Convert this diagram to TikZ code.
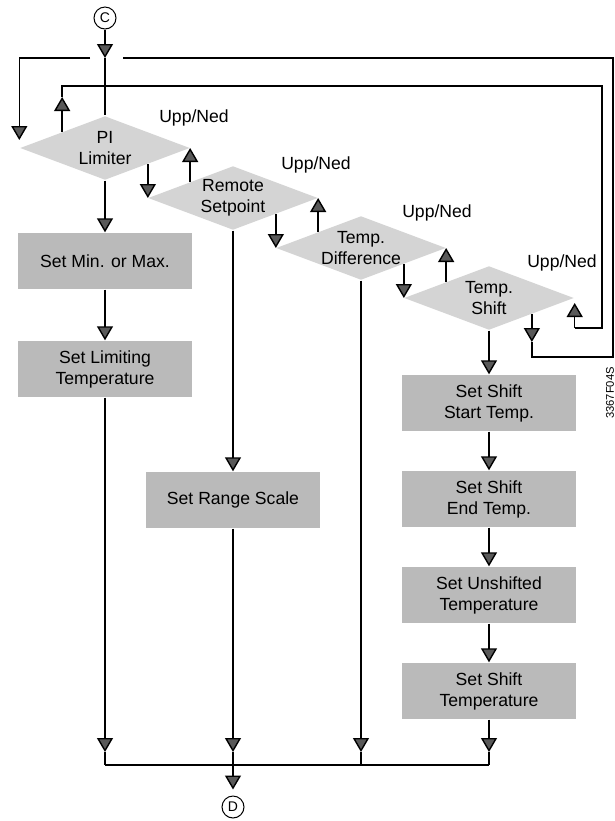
\documentclass[tikz,border=0pt]{standalone}
\usepackage{fontspec}
\setmainfont{Liberation Sans}
\usetikzlibrary{arrows.meta,positioning,shapes.geometric}

\begin{document}
\begin{tikzpicture}[x=0.5pt,y=-0.5pt,>={Triangle[width=8pt,length=7pt,fill=black!65]},line width=0.7pt,
  on grid,font=\fontsize{8.8}{10.5}\selectfont,
  dia/.style={diamond,fill=black!17,aspect=2.64,inner xsep=-3pt,inner ysep=0pt,minimum width=85pt,minimum height=32pt,align=center},
  box/.style={rectangle,fill=black!27,minimum width=87pt,minimum height=28pt,align=center},
  conn/.style={circle,draw,line width=0.5pt,minimum size=11pt,inner sep=0pt,font=\fontsize{7}{8}\selectfont}]
  \useasboundingbox (0,0) rectangle (615,821);

  \node [conn] (C) at (105,18) {C};
  \node [dia] (pi) at (105,148) {PI\\Limiter};
  \node [dia] (rem) [below right=25pt and 64pt of pi] {Remote\\Setpoint};
  \node [dia] (dif) [below right=25pt and 64pt of rem] {Temp.\\Difference};
  \node [dia] (shf) [below right=25pt and 64pt of dif] {Temp.\\Shift};

  \node at (194,118) {Upp/Ned};
  \node at (316,165) {Upp/Ned};
  \node at (437,213) {Upp/Ned};
  \node at (562,263) {Upp/Ned};

  \node [box] (minmax) [below=56.5pt of pi] {Set Min. or Max.};
  \node [box] (limit) [below=54pt of minmax] {Set Limiting\\Temperature};
  \node [box] (range) [below=151pt of rem] {Set Range Scale};
  \node [box] (start) [below=52.5pt of shf] {Set Shift\\Start Temp.};
  \node [box] (endt) [below=48pt of start] {Set Shift\\End Temp.};
  \node [box] (unsh) [below=48pt of endt] {Set Unshifted\\Temperature};
  \node [box] (stemp) [below=48pt of unsh] {Set Shift\\Temperature};
  \node [conn] (D) at (233,807) {D};

  \node [rotate=90,font=\fontsize{5.6}{6}\selectfont] (code) at (610,393) {3367F04S};

  \coordinate (cin) at (105,58);
  \coordinate (gapl) at (90,58);
  \coordinate (gapr) at (123,58);
  \coordinate (otop) at (613,58);
  \coordinate (obot) at (613,357);
  \coordinate (itop) at (602,86);
  \coordinate (ibot) at (602,328);
  \coordinate (tip) at (0,752);
  \coordinate (bot) at (233,765);
  \coordinate (iup) at (pi.north west |- 0,97);
  \coordinate (odn) at (shf.south east |- 0,342);

  % entry
  \draw [->] (C) -- (cin);
  \draw (cin) -- (pi.north);

  % Ned
  \draw [->] (pi.south east) -- (pi.south east |- rem.west);
  \draw [->] (rem.south east) -- (rem.south east |- dif.west);
  \draw [->] (dif.south east) -- (dif.south east |- shf.west);
  % Upp
  \draw [->] (rem.north west) -- (rem.north west |- pi.east);
  \draw [->] (dif.north west) -- (dif.north west |- rem.east);
  \draw [->] (shf.north west) -- (shf.north west |- dif.east);

  % Upp from PI Limiter back to Temp. Shift
  \draw [->] (pi.north west) -- (iup);
  \draw (iup) -- (iup |- itop) -- (itop) -- (ibot) -- (ibot -| shf.east);
  \draw [->,shorten >=2.5pt] (ibot -| shf.east) -- (shf.east);

  % Ned from Temp. Shift back to PI Limiter
  \draw [->] (shf.south east) -- (odn);
  \draw (odn) -- (odn |- obot) -- (obot) -- (otop) -- (gapr);
  \draw [->,shorten >=4pt] (gapl) -- (pi.west |- gapl) -- (pi.west);

  % settings
  \draw [->] (pi) -- (minmax);
  \draw [->] (minmax) -- (limit);
  \draw [->] (rem) -- (range);
  \draw [->] (shf) -- (start);
  \draw [->] (start) -- (endt);
  \draw [->] (endt) -- (unsh);
  \draw [->] (unsh) -- (stemp);

  % exit
  \draw [->] (limit) -- (limit |- tip);
  \draw (limit |- tip) -- (limit |- bot);
  \draw [->] (range) -- (range |- tip);
  \draw (range |- tip) -- (range |- bot);
  \draw [->] (dif) -- (dif |- tip);
  \draw (dif |- tip) -- (dif |- bot);
  \draw [->] (stemp) -- (stemp |- tip);
  \draw (stemp |- tip) -- (stemp |- bot);
  \draw (limit |- bot) -- (stemp |- bot);
  \draw [->,shorten >=3pt] (bot) -- (D);
\end{tikzpicture}
\end{document}
